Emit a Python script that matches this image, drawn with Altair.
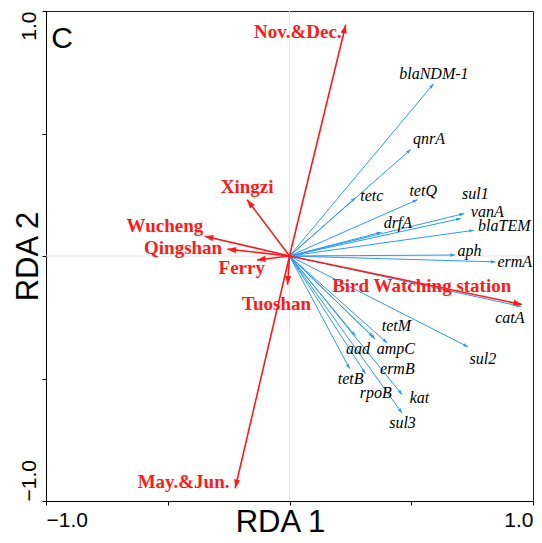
import altair as alt
import pandas as pd

# ---- data ----
env_names = ["Nov.&Dec.", "May.&Jun.", "Xingzi", "Wucheng", "Qingshan",
             "Ferry", "Tuoshan", "Bird Watching station"]
env_x = [0.231, -0.223, -0.174, -0.348, -0.255, -0.134, -0.008, 0.955]
env_y = [0.944, -0.948, 0.230, 0.081, 0.028, -0.016, -0.117, -0.198]
env_lx = [0.034, -0.435, -0.174, -0.512, -0.437, -0.196, -0.053, 0.543]
env_ly = [0.913, -0.921, 0.282, 0.123, 0.032, -0.050, -0.194, -0.123]

gene_names = ["blaNDM-1", "qnrA", "tetc", "tetQ", "drfA", "sul1", "vanA",
              "blaTEM", "aph", "ermA", "catA", "sul2", "tetM", "aad", "ampC",
              "ermB", "tetB", "rpoB", "kat", "sul3"]
gene_x = [0.591, 0.498, 0.271, 0.526, 0.377, 0.717, 0.704, 0.757, 0.680,
          0.846, 0.951, 0.733, 0.401, 0.271, 0.344, 0.352, 0.247, 0.312,
          0.462, 0.462]
gene_y = [0.702, 0.435, 0.238, 0.230, 0.097, 0.173, 0.153, 0.105, 0.004,
          -0.024, -0.206, -0.371, -0.355, -0.327, -0.331, -0.339, -0.460,
          -0.480, -0.565, -0.641]
gene_lx = [0.593, 0.573, 0.338, 0.549, 0.445, 0.763, 0.812, 0.882, 0.739,
           0.925, 0.905, 0.794, 0.439, 0.281, 0.437, 0.443, 0.251, 0.354,
           0.534, 0.464]
gene_ly = [0.742, 0.476, 0.246, 0.266, 0.133, 0.252, 0.179, 0.121, 0.020,
           -0.024, -0.254, -0.419, -0.286, -0.379, -0.379, -0.462, -0.504,
           -0.560, -0.579, -0.683]

axis_ticks = [-1.0, -0.5, 0.0, 0.5, 1.0]
panel_label = ["C"]
panel_x = [-0.978]
panel_y = [0.851]

RED = "#ff1a1a"
BLUE = "#2b9af3"

env_df = pd.DataFrame({"name": env_names, "x": env_x, "y": env_y,
                       "lx": env_lx, "ly": env_ly})
env_df["x0"] = 0.0
env_df["y0"] = 0.0
gene_df = pd.DataFrame({"name": gene_names, "x": gene_x, "y": gene_y,
                        "lx": gene_lx, "ly": gene_ly})
gene_df["x0"] = 0.0
gene_df["y0"] = 0.0
zero_df = pd.DataFrame({"v": [0.0]})
panel_df = pd.DataFrame({"t": panel_label, "x": panel_x, "y": panel_y})

W, H = 487, 490

xs = alt.Scale(domain=[-1, 1], nice=False, zero=False)
ys = alt.Scale(domain=[-1, 1], nice=False, zero=False)

LABEL_EXPR = "datum.value == 1 ? '1.0' : (datum.value == -1 ? '\u22121.0' : '')"

x_axis = alt.Axis(
    values=axis_ticks, title="RDA 1", labelExpr=LABEL_EXPR,
    labelFlush=True, labelOverlap=False, labelBaseline="alphabetic",
    labelPadding=21, tickSize=4, labelFontSize=21, labelFont="Liberation Sans",
    titleFontSize=31, titleFont="Liberation Sans", titleFontWeight="normal",
    titleBaseline="alphabetic", titleAlign="center", titleX=234, titleY=30,
    grid=False, labelColor="black", titleColor="black",
    domainColor="black", tickColor="black",
)
y_axis = alt.Axis(
    values=axis_ticks, title="RDA 2", labelExpr=LABEL_EXPR,
    labelAngle=270, labelOverlap=False, labelBaseline="alphabetic",
    labelAlign={"condition": {"test": "datum.value > 0", "value": "right"},
                "value": "left"},
    labelPadding=7, tickSize=4, labelFontSize=21, labelFont="Liberation Sans",
    titleFontSize=31, titleFont="Liberation Sans", titleFontWeight="normal",
    titleAngle=270, titleBaseline="alphabetic", titleAlign="center",
    titleX=-9, titleY=245,
    grid=False, labelColor="black", titleColor="black",
    domainColor="black", tickColor="black",
)


def X(field):
    return alt.X(field, type="quantitative", scale=xs, axis=x_axis)


def Y(field):
    return alt.Y(field, type="quantitative", scale=ys, axis=y_axis)


HEAD = "M0,0L-0.36,1L0.36,1Z"
ANG = "(atan2(datum.x, datum.y) * 180 / PI + 360) % 360"

vgrid = alt.Chart(zero_df).mark_rule(color="#e4e4e4", strokeWidth=1).encode(
    x=X("v"))
hgrid = alt.Chart(zero_df).mark_rule(color="#e4e4e4", strokeWidth=1).encode(
    y=Y("v"))


def arrows(df, color, width, head_size):
    lines = alt.Chart(df).mark_rule(color=color, strokeWidth=width).encode(
        x=X("x0"), y=Y("y0"), x2="x:Q", y2="y:Q")
    heads = alt.Chart(df).transform_calculate(ang=ANG).mark_point(
        shape=HEAD, filled=True, color=color, opacity=1, size=head_size
    ).encode(x=X("x"), y=Y("y"), angle=alt.Angle("ang:Q", scale=None))
    return lines + heads


gene_arrows = arrows(gene_df, BLUE, 1, 90)
env_arrows = arrows(env_df, RED, 1.6, 300)

gene_labels = alt.Chart(gene_df).mark_text(
    font="Liberation Serif", fontStyle="italic", fontSize=16, color="black",
    align="center", baseline="middle"
).encode(x=X("lx"), y=Y("ly"), text="name:N")

env_labels = alt.Chart(env_df).mark_text(
    font="Liberation Serif", fontWeight="bold", fontSize=19, color=RED,
    align="center", baseline="middle"
).encode(x=X("lx"), y=Y("ly"), text="name:N")

panel = alt.Chart(panel_df).mark_text(
    font="Liberation Sans", fontSize=30, color="black",
    align="left", baseline="alphabetic"
).encode(x=X("x"), y=Y("y"), text="t:N")

chart = alt.layer(
    vgrid, hgrid, gene_arrows, env_arrows, gene_labels, env_labels, panel
).properties(
    width=W, height=H,
    autosize=alt.AutoSizeParams(type="none"),
    padding={"left": 38, "top": 3, "right": 1, "bottom": 34},
).configure_view(stroke="#222222", strokeWidth=1)

chart.save("out.html", embed_options={"renderer": "svg", "actions": False})
